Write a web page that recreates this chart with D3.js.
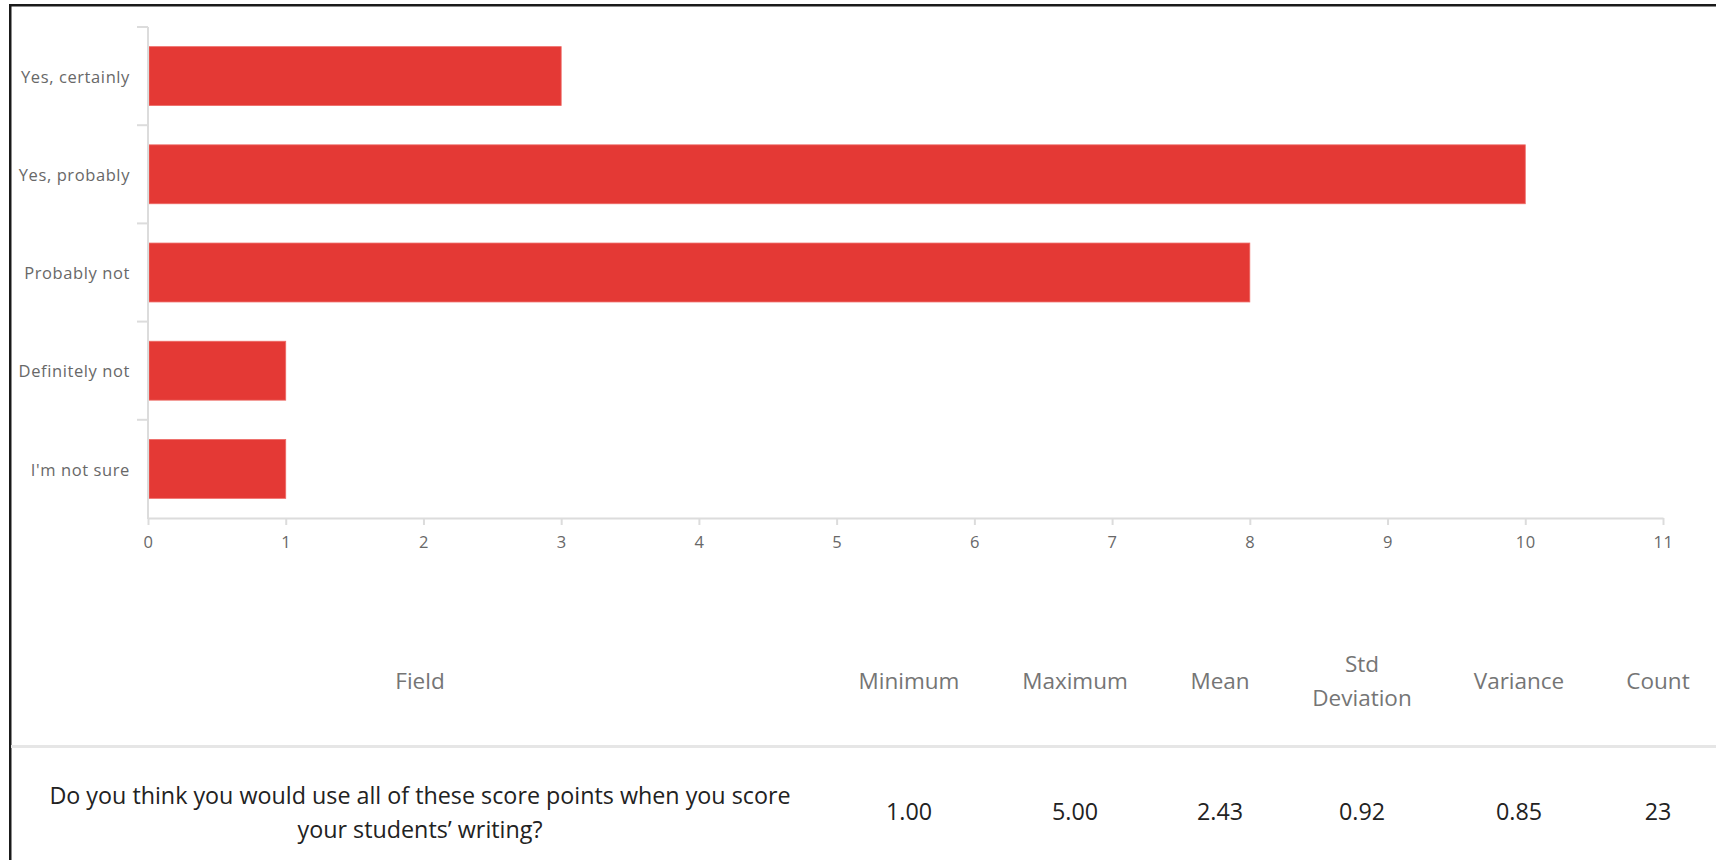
<!DOCTYPE html>
<html>
<head>
<meta charset="utf-8">
<script src="https://cdn.jsdelivr.net/npm/d3@7"></script>
<style>
  html, body { margin: 0; padding: 0; background: #fff; }
  svg { display: block; }
</style>
</head>
<body>
<svg id="chart" width="1716" height="860"></svg>
<script>
// Answer categories and response counts
const categories = ["Yes, certainly", "Yes, probably", "Probably not", "Definitely not", "I'm not sure"];
const counts = [3, 10, 8, 1, 1];
const xTicks = [0, 1, 2, 3, 4, 5, 6, 7, 8, 9, 10, 11];

// Summary statistics table
const statHeaders = [["Minimum"], ["Maximum"], ["Mean"], ["Std", "Deviation"], ["Variance"], ["Count"]];
const statValues = ["1.00", "5.00", "2.43", "0.92", "0.85", "23"];
const questionLines = ["Do you think you would use all of these score points when you score", "your students\u2019 writing?"];

const W = 1716, H = 860;
const svg = d3.select("#chart");
const font = "'Open Sans', sans-serif";

// Frame lines
svg.append("rect").attr("x", 9).attr("y", 4).attr("width", W - 9).attr("height", 2.5).attr("fill", "#1a1a1a");
svg.append("rect").attr("x", 9).attr("y", 4).attr("width", 2.5).attr("height", H - 4).attr("fill", "#1a1a1a");

// Bar chart
const plot = { left: 148, right: 1663, top: 27, bottom: 518 };
const x = d3.scaleLinear().domain([0, 11]).range([plot.left, plot.right]);
const y = d3.scaleBand().domain(categories).range([plot.top, plot.bottom]).paddingInner(0.4).paddingOuter(0.2);
const axisColor = "#dcdcdc";
const labelColor = "#686868";

svg.append("g").selectAll("rect")
  .data(categories)
  .join("rect")
  .attr("x", x(0) + 1)
  .attr("y", d => y(d))
  .attr("width", (d, i) => x(counts[i]) - x(0) - 1)
  .attr("height", y.bandwidth())
  .attr("fill", "#e43935")
  .attr("stroke", "#ee6b67")
  .attr("stroke-width", 0.8);

// X axis
const xAxis = svg.append("g")
  .attr("transform", `translate(0,${plot.bottom})`)
  .call(d3.axisBottom(x).tickValues(xTicks).tickFormat(d3.format("d")).tickSize(7).tickPadding(11).tickSizeOuter(0));
xAxis.select(".domain").attr("stroke", axisColor).attr("stroke-width", 2);
xAxis.selectAll(".tick line").attr("stroke", axisColor).attr("stroke-width", 2);
xAxis.selectAll(".tick text").attr("fill", labelColor).attr("font-family", font)
  .attr("font-size", 16.5).attr("letter-spacing", 0.5);

// Y axis: labels at band centres, ticks at band boundaries
const yAxis = svg.append("g")
  .attr("transform", `translate(${plot.left},0)`)
  .call(d3.axisLeft(y).tickSize(0).tickPadding(18));
yAxis.select(".domain").remove();
yAxis.selectAll(".tick text").attr("fill", labelColor).attr("font-family", font)
  .attr("font-size", 16.5).attr("letter-spacing", 0.6).attr("dy", "0.4em");

const step = y.step();
const boundaries = d3.range(categories.length + 1).map(i => plot.top + i * step);
svg.append("g").selectAll("line")
  .data(boundaries.slice(0, categories.length))
  .join("line")
  .attr("x1", plot.left - 11).attr("x2", plot.left)
  .attr("y1", d => d).attr("y2", d => d)
  .attr("stroke", axisColor).attr("stroke-width", 2);
svg.append("line")
  .attr("x1", plot.left).attr("x2", plot.left)
  .attr("y1", plot.top).attr("y2", plot.bottom + 1)
  .attr("stroke", axisColor).attr("stroke-width", 2);

// Statistics table
const colX = [909, 1075, 1220, 1362, 1519, 1658];
const fieldX = 420;
const headY = 681;
const tbl = svg.append("g").attr("font-family", font).attr("text-anchor", "middle");

tbl.append("text").attr("x", fieldX).attr("y", headY).attr("dy", "0.35em")
  .attr("fill", "#757575").attr("font-size", 22.5).text("Field");

tbl.selectAll("text.head")
  .data(statHeaders)
  .join("text")
  .attr("class", "head")
  .attr("x", (d, i) => colX[i])
  .attr("y", d => headY - (d.length - 1) * 17)
  .attr("fill", "#757575").attr("font-size", 22.5)
  .each(function (d) {
    d3.select(this).selectAll("tspan").data(d).join("tspan")
      .attr("x", d3.select(this).attr("x"))
      .attr("dy", (t, j) => j === 0 ? "0.35em" : 34)
      .text(t => t);
  });

svg.append("rect").attr("x", 11).attr("y", 745).attr("width", W - 11).attr("height", 3).attr("fill", "#e6e6e6");

tbl.selectAll("text.q")
  .data(questionLines)
  .join("text")
  .attr("class", "q")
  .attr("x", fieldX)
  .attr("y", (d, i) => 796 + i * 34)
  .attr("dy", "0.35em")
  .attr("fill", "#222").attr("font-size", 23.3)
  .text(d => d);

tbl.selectAll("text.v")
  .data(statValues)
  .join("text")
  .attr("class", "v")
  .attr("x", (d, i) => colX[i])
  .attr("y", 812)
  .attr("dy", "0.35em")
  .attr("fill", "#222").attr("font-size", 23.3)
  .text(d => d);
</script>
</body>
</html>
